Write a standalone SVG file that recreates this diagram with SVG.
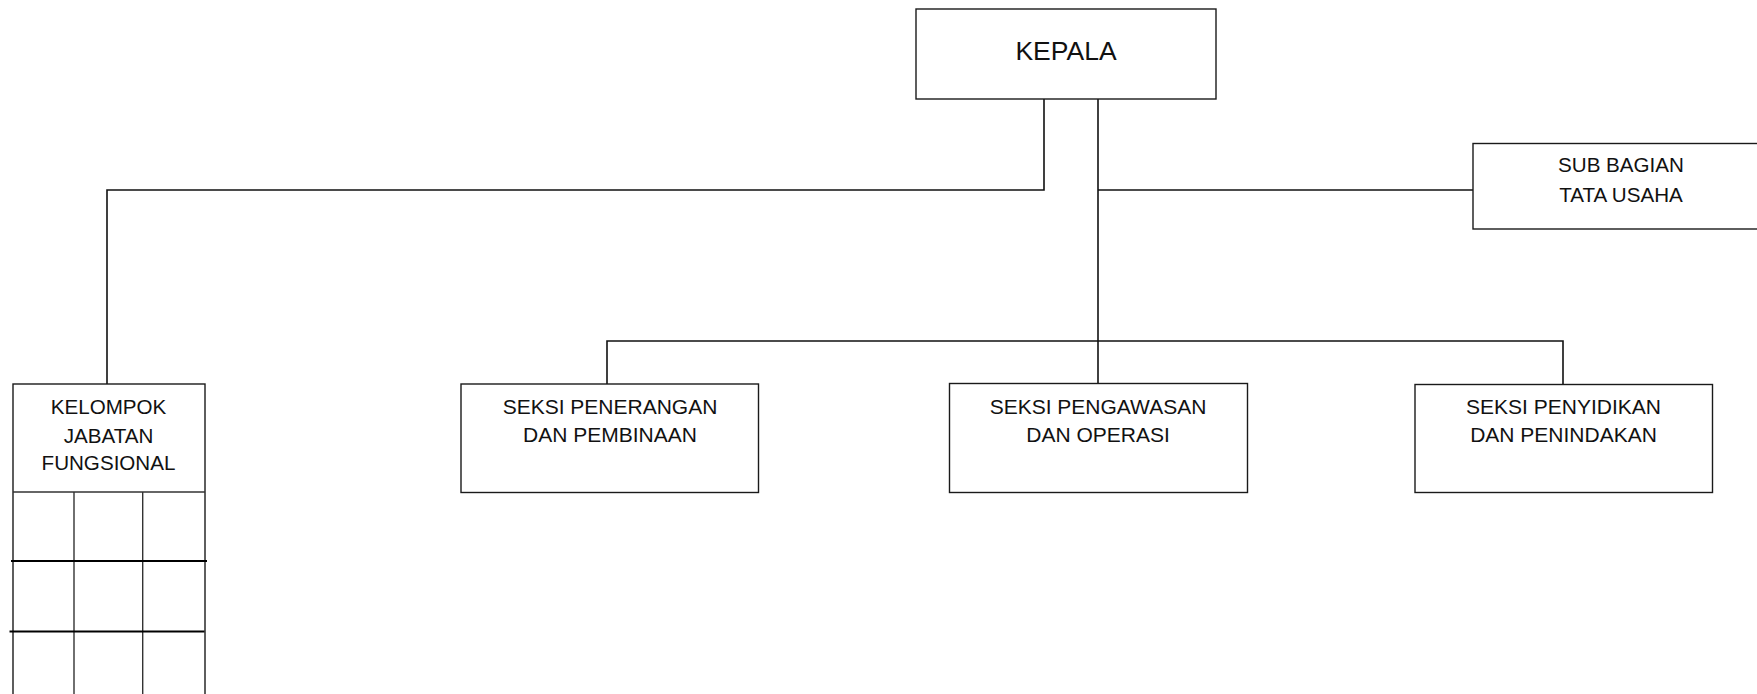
<svg xmlns="http://www.w3.org/2000/svg" width="1757" height="694" viewBox="0 0 1757 694">
<style>
.box{fill:#fff;stroke:#1a1a1a;stroke-width:1.4}
.ln{fill:none;stroke:#111;stroke-width:1.6}
.grid{fill:none;stroke:#333;stroke-width:1.4}
.gridh{fill:none;stroke:#000;stroke-width:2}
text{font-family:"Liberation Sans",Arial,sans-serif;fill:#111;text-anchor:middle}
.t{font-size:21px}
.s{font-size:20.6px}
</style>
<rect width="1757" height="694" fill="#fff"/>
<g id="connectors">
<polyline class="ln" points="1044,99 1044,190 107,190 107,384"/>
<polyline class="ln" points="1098,99 1098,341"/>
<line class="ln" x1="1098" y1="190" x2="1473" y2="190"/>
<polyline class="ln" points="607,384 607,341 1563,341 1563,384"/>
<line class="ln" x1="1098" y1="341" x2="1098" y2="384"/>
</g>
<g id="kepala">
<rect class="box" x="916" y="9" width="300" height="90"/>
<text x="1066" y="60" style="font-size:26.5px">KEPALA</text>
</g>
<g id="subbagian">
<rect class="box" x="1473" y="143.5" width="300" height="85.5"/>
<text class="s" x="1621" y="172">SUB BAGIAN</text>
<text class="s" x="1621" y="201.5">TATA USAHA</text>
</g>
<g id="kelompok">
<rect class="box" x="13" y="384" width="192" height="330"/>
<line class="grid" x1="13" y1="492" x2="205" y2="492"/>
<line class="grid" x1="74" y1="492" x2="74" y2="694"/>
<line class="grid" x1="142.7" y1="492" x2="142.7" y2="694"/>
<line class="gridh" x1="11" y1="561" x2="207" y2="561"/>
<line class="gridh" x1="9.5" y1="631.5" x2="204.5" y2="631.5"/>
<text class="s" x="108.5" y="414">KELOMPOK</text>
<text class="s" x="108.5" y="443">JABATAN</text>
<text class="s" x="108.5" y="470">FUNGSIONAL</text>
</g>
<g id="penerangan">
<rect class="box" x="461" y="384" width="297.5" height="108.5"/>
<text class="t" x="610" y="414">SEKSI PENERANGAN</text>
<text class="t" x="610" y="442">DAN PEMBINAAN</text>
</g>
<g id="pengawasan">
<rect class="box" x="949.5" y="383.5" width="298" height="109"/>
<text class="t" x="1098" y="414">SEKSI PENGAWASAN</text>
<text class="t" x="1098" y="442">DAN OPERASI</text>
</g>
<g id="penyidikan">
<rect class="box" x="1415" y="384.5" width="297.5" height="108"/>
<text class="t" x="1563.5" y="414">SEKSI PENYIDIKAN</text>
<text class="t" x="1563.5" y="442">DAN PENINDAKAN</text>
</g>
</svg>
